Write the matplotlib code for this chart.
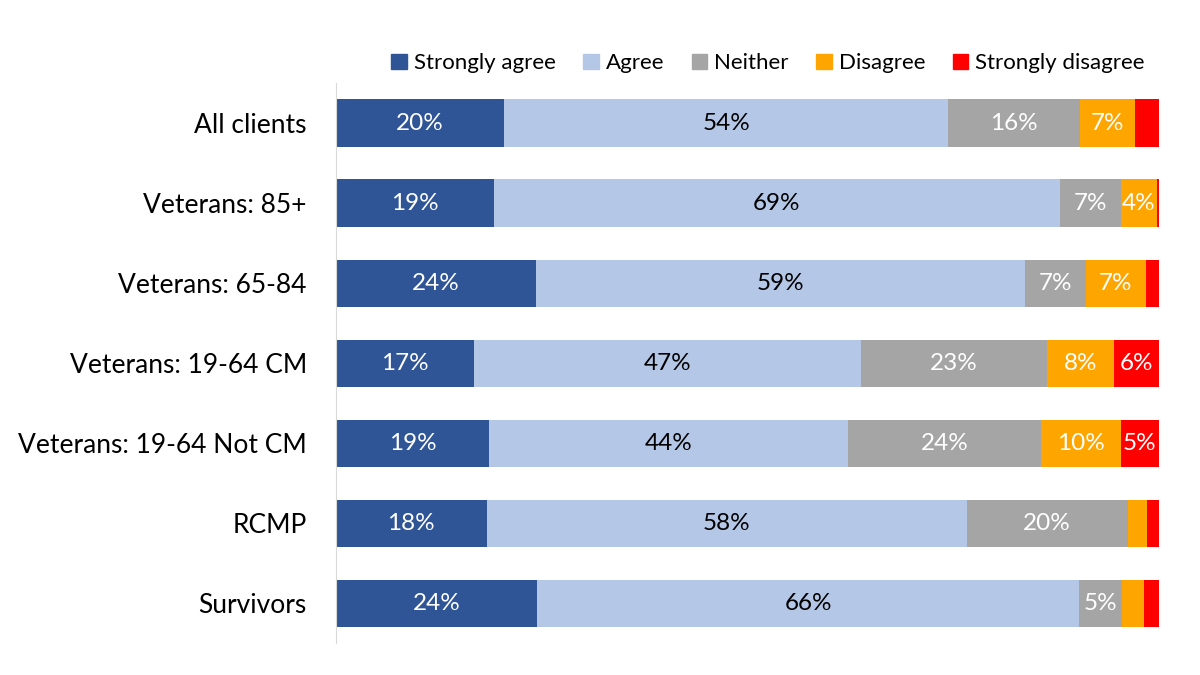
import numpy as np
import matplotlib.pyplot as plt
from matplotlib.patches import Patch

plt.rcParams['font.family'] = ['Lato', 'DejaVu Sans']

# survey rows, top to bottom
groups = ['All clients', 'Veterans: 85+', 'Veterans: 65-84', 'Veterans: 19-64 CM',
          'Veterans: 19-64 Not CM', 'RCMP', 'Survivors']
series = ['Strongly agree', 'Agree', 'Neither', 'Disagree', 'Strongly disagree']

strongly_agree = [20.4, 19.2, 24.3, 16.8, 18.6, 18.3, 24.4]
agree = [54.0, 68.7, 59.4, 47.0, 43.6, 58.3, 65.9]
neither = [16.0, 7.4, 7.4, 22.6, 23.5, 19.6, 5.2]
disagree = [6.6, 4.4, 7.3, 8.1, 9.6, 2.3, 2.7]
strongly_disagree = [3.0, 0.4, 1.6, 5.5, 4.7, 1.5, 1.8]

colors = ['#2F5597', '#B4C7E7', '#A5A5A5', '#FFA500', '#FF0000']
text_colors = ['white', 'black', 'white', 'white', 'white']

fig = plt.figure(figsize=(12, 6.75), dpi=100)
ax = fig.add_axes([0.28, 0.047, 0.686, 0.83])

y = np.arange(len(groups))
left = np.zeros(len(groups))
for vals, col, tc in zip([strongly_agree, agree, neither, disagree, strongly_disagree],
                         colors, text_colors):
    vals = np.array(vals)
    ax.barh(y, vals, left=left, height=0.59, color=col, edgecolor='none')
    for yi, l, v in zip(y, left, vals):
        # small segments get no label
        if v >= 3.5:
            ax.text(l + v / 2, yi, f'{int(v + 0.5)}%', ha='center', va='center',
                    color=tc, fontsize=17.5)
    left += vals

ax.set_xlim(0, 100)
ax.set_ylim(len(groups) - 0.5, -0.5)
ax.set_yticks(y)
ax.set_yticklabels(groups, fontsize=19)
ax.tick_params(axis='y', length=0, pad=21)
ax.set_xticks([])
for s in ['top', 'right', 'bottom']:
    ax.spines[s].set_visible(False)
ax.spines['left'].set_color('#D9D9D9')

handles = [Patch(color=c, label=s) for c, s in zip(colors, series)]
fig.legend(handles=handles, loc='center', bbox_to_anchor=(0.64, 0.906), ncol=5,
           frameon=False, fontsize=16, handlelength=0.7, handleheight=0.7,
           handletextpad=0.3, columnspacing=1.25)

fig.savefig('out.png', dpi=100)
